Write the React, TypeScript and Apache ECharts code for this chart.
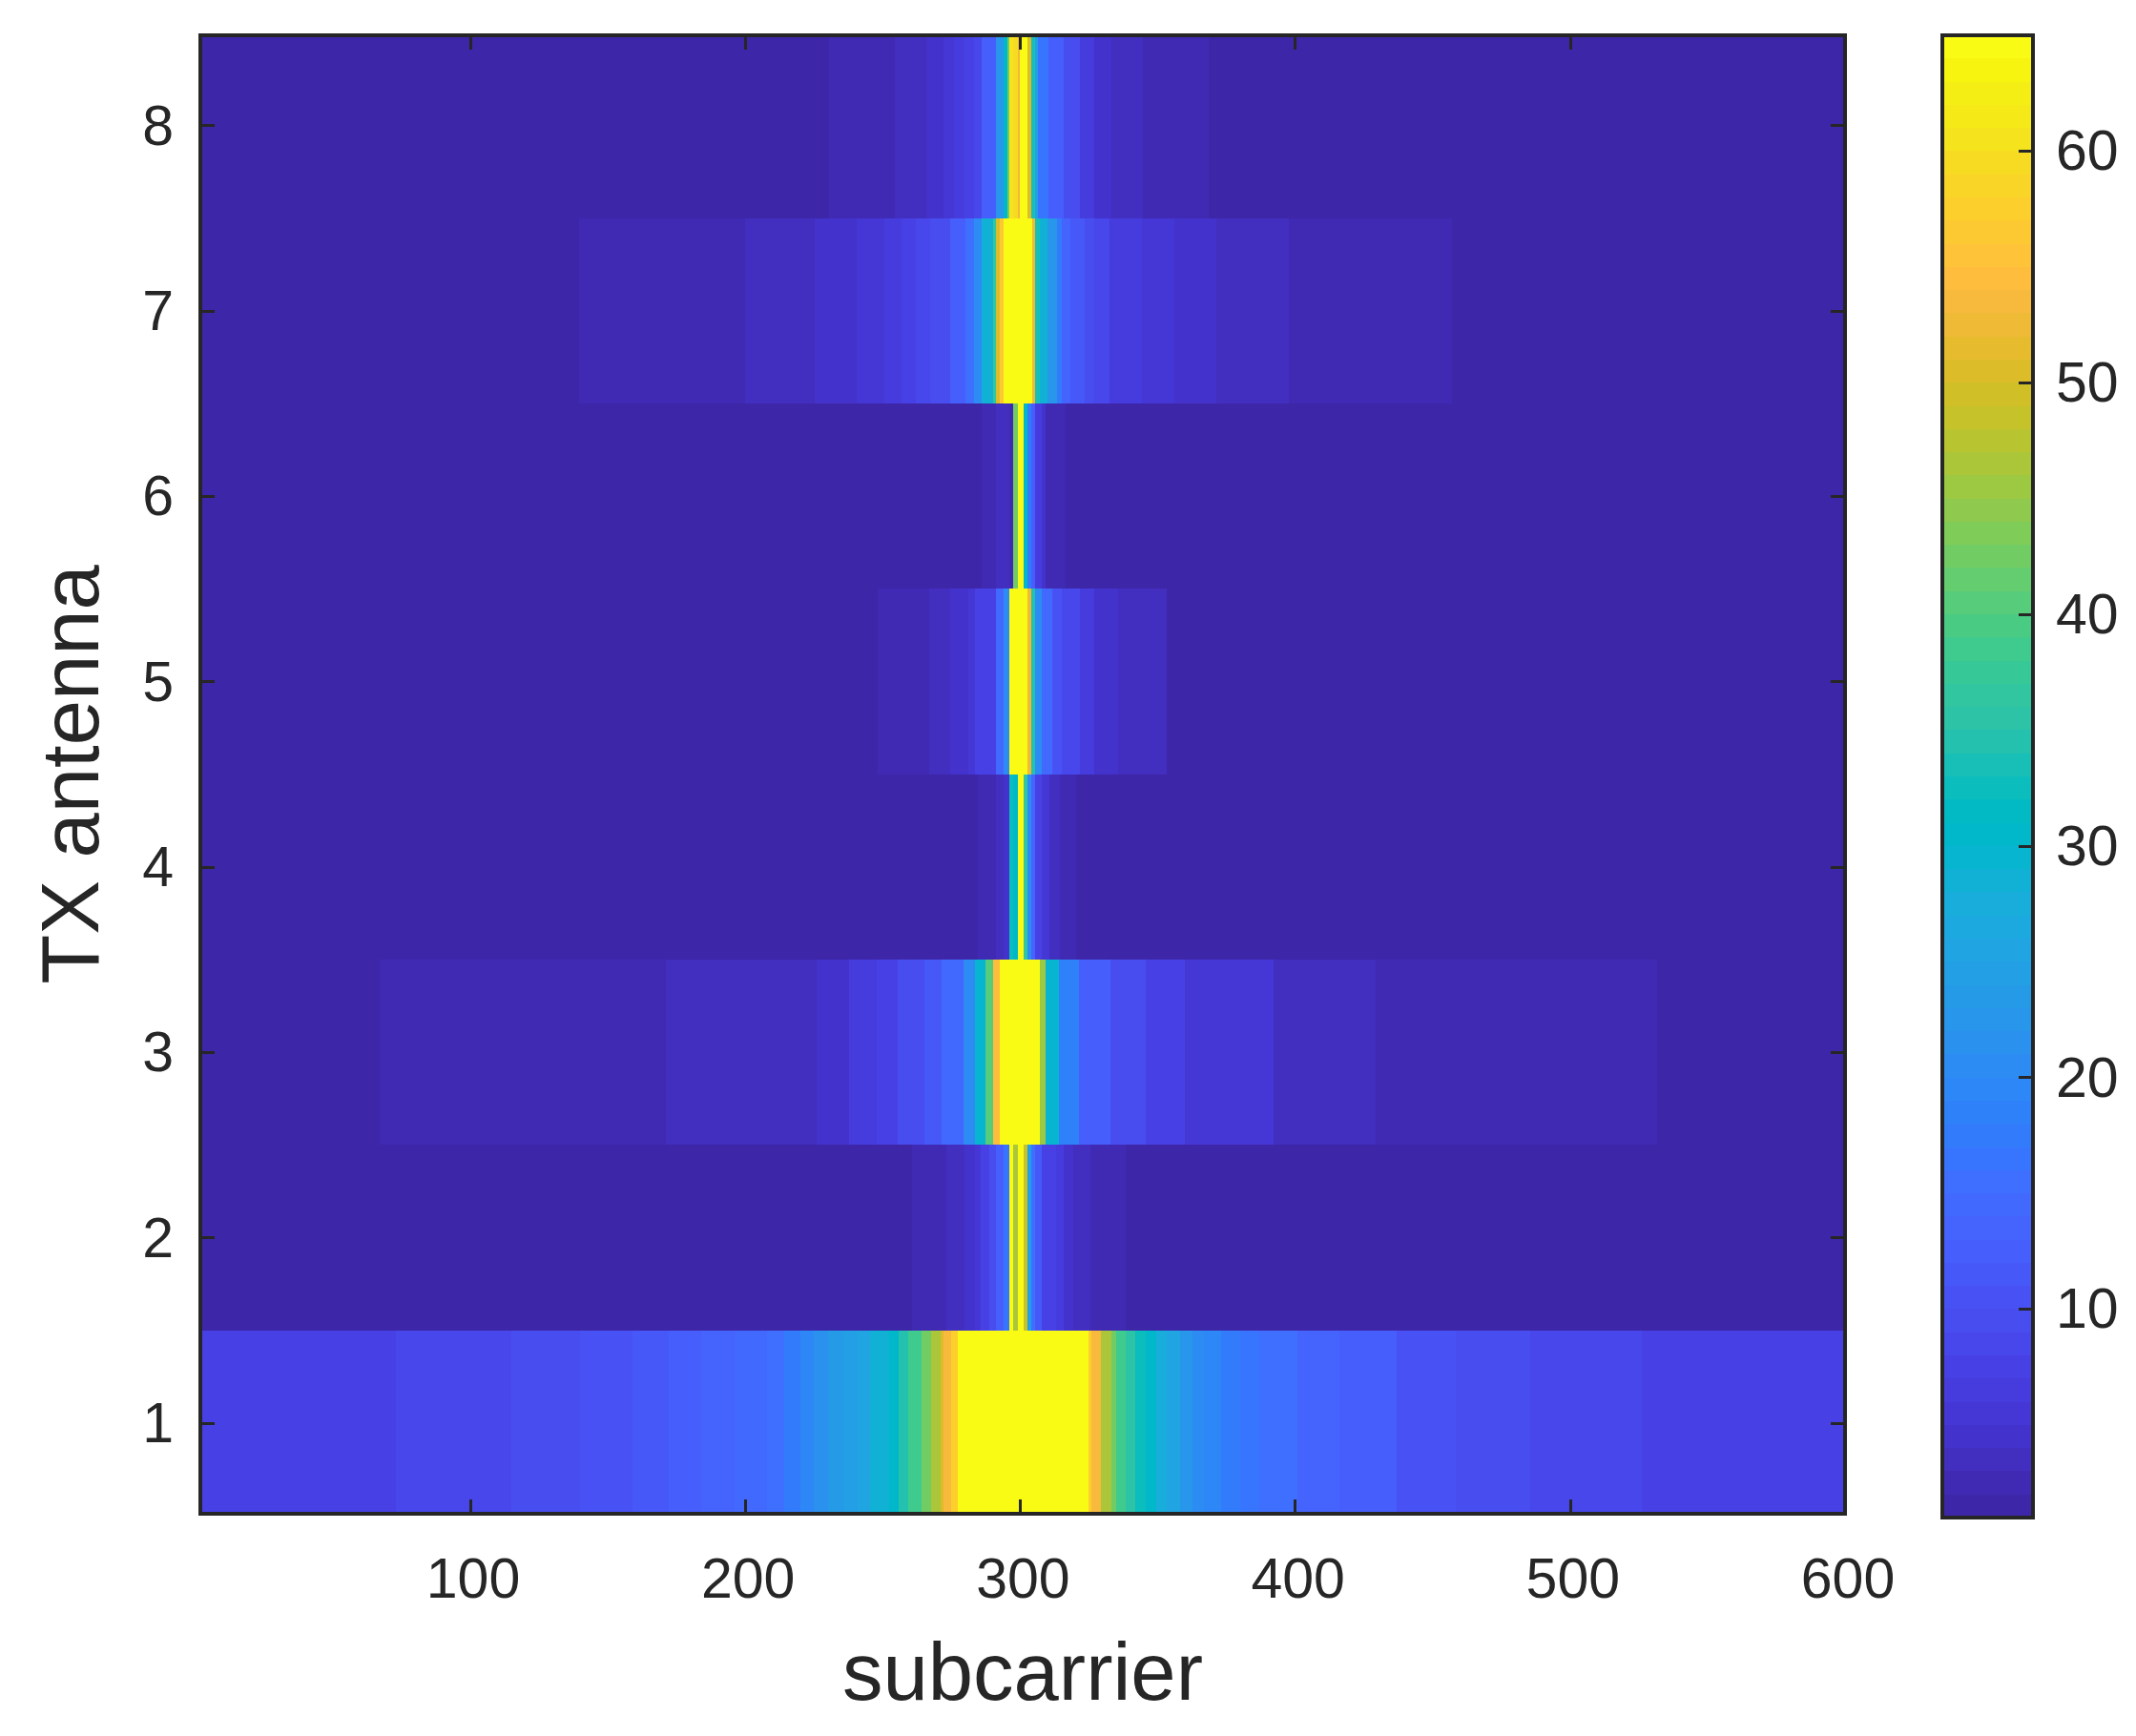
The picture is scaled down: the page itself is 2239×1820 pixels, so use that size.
import React, { useRef, useEffect } from 'react';
import * as echarts from 'echarts';

// each run is [end subcarrier, value], it starts where the previous run ended
const tx1 = [[73, 7], [115, 8], [140, 9], [159, 10], [172, 11], [184, 12], [196, 13], [208, 14], [214, 15], [220, 17], [225, 19], [230, 21], [236, 23], [241, 24], [245.4, 25], [252.3, 28], [255.8, 30], [259.3, 34], [264, 38], [267.6, 42], [271, 46], [272, 50], [275, 53], [277.4, 57], [324.8, 65], [326, 57], [329.4, 53], [333, 46], [335, 42], [338.3, 38], [341.8, 35], [345.8, 32], [349.4, 30], [353.3, 27], [358, 25], [362.6, 22], [367, 20], [373, 19], [380, 17], [387, 16], [401, 15], [416, 13], [437, 12], [458.5, 10], [485.5, 9], [526, 8], [600.5, 7]];
const tx2 = [[260.7, 1], [273.2, 2], [279.8, 3], [283.7, 4], [285.8, 5], [288.9, 7], [291.3, 9], [293.8, 12], [296.2, 16], [297.6, 65], [299, 46], [301.4, 65], [302.8, 48], [303.9, 24], [305.3, 15], [307.7, 11], [312.9, 7], [315.7, 6], [319.2, 4], [325.4, 3], [338.3, 2], [600.5, 1]];
const tx3 = [[67, 1], [171.3, 2], [206.4, 3], [225.9, 3], [237.7, 4], [247.8, 6], [255.5, 7], [265.2, 9], [271.5, 11], [279.5, 14], [283.7, 20], [287.5, 29], [290.3, 40], [292.4, 54], [307, 65], [309.4, 45], [314, 29], [321.3, 18], [332.8, 12], [345.6, 9], [359.9, 7], [392.3, 5], [429.2, 3], [531.5, 2], [600.5, 1]];
const tx4 = [[284.7, 1], [291.3, 2], [293.8, 3], [296.2, 4], [297.6, 32], [299, 30], [301.4, 65], [302.8, 36], [303.9, 20], [305.3, 13], [308, 7], [310.5, 5], [314.3, 3], [320.2, 2], [600.5, 1]];
const tx5 = [[248.2, 1], [267, 2], [274.6, 3], [281.2, 4], [283.7, 5], [291.3, 7], [294.1, 14], [296.2, 20], [302.5, 65], [303.9, 52], [305.3, 34], [307.7, 20], [311.5, 14], [315, 10], [321.6, 8], [326.8, 6], [335.5, 4], [353.3, 3], [600.5, 1]];
const tx6 = [[286.1, 1], [291.3, 2], [296.2, 3], [297.6, 2], [299, 42], [301.4, 65], [302.8, 30], [303.9, 17], [305.3, 12], [308, 6], [309.4, 4], [316.4, 2], [600.5, 1]];
const tx7 = [[139.6, 1], [199.8, 2], [225.2, 3], [240.5, 4], [250.6, 5], [256.9, 6], [262.1, 7], [267.3, 8], [274.6, 9], [280.2, 12], [283.3, 15], [286.1, 20], [290.3, 28], [291.3, 36], [292.6, 50], [293.8, 56], [304.2, 65], [305.3, 52], [307, 33], [309.8, 28], [313.3, 22], [315, 17], [318.1, 13], [323.4, 11], [326.8, 9], [332.4, 8], [344.2, 6], [356.1, 5], [371.4, 4], [397.8, 3], [457, 2], [600.5, 1]];
const tx8 = [[230.4, 1], [254.4, 2], [265.9, 3], [272.2, 4], [276, 5], [279.8, 6], [283.3, 7], [286.1, 8], [291.3, 12], [293.8, 22], [295.2, 30], [296.2, 42], [297.6, 60], [299, 59], [300, 52], [302.8, 65], [303.9, 50], [305.3, 33], [306.3, 24], [310.1, 16], [315.7, 12], [321.6, 9], [326.8, 6], [333.1, 4], [344.6, 3], [368.6, 2], [600.5, 1]];
const antennas = [tx1, tx2, tx3, tx4, tx5, tx6, tx7, tx8];

const xTicks = [100, 200, 300, 400, 500, 600];
const yTicks = [1, 2, 3, 4, 5, 6, 7, 8];
const colorTicks = [10, 20, 30, 40, 50, 60];

// parula, 64 levels between 1 and 65
const parula = [
  '#3e26a8', '#402ab4', '#422ebf', '#4332cb', '#4537d5', '#463cde', '#4741e5', '#4747eb',
  '#484df0', '#4852f4', '#4758f8', '#465efb', '#4563fd', '#4269fe', '#3e6fff', '#3875fe',
  '#327cfc', '#2f81fa', '#2d87f7', '#2d8cf3', '#2b91ef', '#2796eb', '#259be7', '#23a0e5',
  '#20a5e2', '#1ca9df', '#18adda', '#11b1d6', '#08b5d0', '#01b8ca', '#02bac3', '#0bbdbc',
  '#18bfb6', '#24c1ae', '#2cc3a7', '#31c69f', '#37c897', '#3fca8e', '#4acb84', '#57cc7a',
  '#64cd6f', '#71cc63', '#80cc59', '#8fca4e', '#9dc942', '#abc739', '#b9c431', '#c5c22a',
  '#d1bf27', '#dcbd29', '#e6bb2d', '#efba35', '#f8ba3d', '#febd3c', '#fec338', '#fdc932',
  '#fccf2d', '#f9d527', '#f7db23', '#f5e31d', '#f5e918', '#f5ee15', '#f7f510', '#f9fb15',
];

const ink = '#262626';
const fontFamily = '"Liberation Sans", Arial, sans-serif';

const colorOf = (value: number) => parula[Math.min(63, Math.max(0, Math.floor(value - 1)))];

// [start, end, antenna, value]
const cells: number[][] = [];
antennas.forEach((runs, i) => {
  let start = 0.5;
  runs.forEach(([end, value]) => {
    cells.push([start, end, i + 1, value]);
    start = end;
  });
});

const barCells = parula.map((_, i) => [i + 1, i + 2]);

const frame = { lineStyle: { color: ink, width: 4, cap: 'square' } };

const App: React.FC = () => {
  const chartRef = useRef<HTMLDivElement>(null);

  useEffect(() => {
    if (!chartRef.current) return;
    const chart = echarts.init(chartRef.current, null, { renderer: 'svg' });

    const ticks = (customValues: number[]) => ({
      show: true,
      inside: true,
      length: 15,
      customValues,
      lineStyle: { color: ink, width: 3 },
    });
    const labels = (customValues: number[], margin: number, padding: number[] = [0, 0, 0, 0]) => ({
      show: true,
      customValues,
      margin,
      padding,
      color: ink,
      fontSize: 59,
      fontFamily,
    });
    const nameStyle = { color: ink, fontSize: 85, fontFamily };
    const mainX = { type: 'value', gridIndex: 0, min: 1.8, max: 600, z: 5, splitLine: { show: false }, axisLine: { show: true, onZero: false, ...frame } };
    const mainY = { type: 'value', gridIndex: 0, min: 0.511, max: 8.487, z: 5, splitLine: { show: false }, axisLine: { show: true, onZero: false, ...frame } };
    const barX = { type: 'value', gridIndex: 1, min: 0, max: 1, z: 5, splitLine: { show: false }, axisLabel: { show: false }, axisTick: { show: false }, axisLine: { show: true, onZero: false, ...frame } };
    const barY = { type: 'value', gridIndex: 1, min: 1, max: 65, z: 5, splitLine: { show: false }, axisLine: { show: true, onZero: false, ...frame } };

    chart.setOption({
      animation: false,
      backgroundColor: '#ffffff',
      grid: [
        { left: 210, top: 37, width: 1724, height: 1550, show: false, outerBoundsMode: 'none' },
        { left: 2036, top: 37, width: 95, height: 1554, show: false, outerBoundsMode: 'none' },
      ],
      xAxis: [
        {
          ...mainX,
          position: 'bottom',
          axisTick: ticks(xTicks),
          axisLabel: labels(xTicks, 38, [0, 0, 0, 6]),
          name: 'subcarrier',
          nameLocation: 'middle',
          nameGap: 123,
          nameMoveOverlap: false,
          nameTextStyle: nameStyle,
        },
        { ...mainX, position: 'top', axisTick: ticks(xTicks), axisLabel: { show: false } },
        { ...barX, position: 'bottom' },
        { ...barX, position: 'top' },
      ],
      yAxis: [
        {
          ...mainY,
          position: 'left',
          axisTick: ticks(yTicks),
          axisLabel: labels(yTicks, 28, [8, 0, 0, 0]),
          name: 'TX antenna',
          nameLocation: 'middle',
          nameGap: 94,
          nameMoveOverlap: false,
          nameTextStyle: nameStyle,
        },
        { ...mainY, position: 'right', axisTick: ticks(yTicks), axisLabel: { show: false } },
        { ...barY, position: 'left', axisTick: { show: false }, axisLabel: { show: false } },
        { ...barY, position: 'right', axisTick: ticks(colorTicks), axisLabel: labels(colorTicks, 24) },
      ],
      series: [
        {
          type: 'custom',
          xAxisIndex: 0,
          yAxisIndex: 0,
          data: cells,
          encode: { x: [0, 1], y: 2 },
          clip: true,
          silent: true,
          renderItem: (_: any, api: any) => {
            const row = api.value(2);
            const a = api.coord([api.value(0), row + 0.5]);
            const b = api.coord([api.value(1), row - 0.5]);
            const x0 = Math.round(a[0]);
            const y0 = Math.round(a[1]);
            return {
              type: 'rect',
              shape: { x: x0, y: y0, width: Math.round(b[0]) - x0, height: Math.round(b[1]) - y0 },
              style: { fill: colorOf(api.value(3)) },
            };
          },
        },
        {
          type: 'custom',
          xAxisIndex: 2,
          yAxisIndex: 2,
          data: barCells,
          encode: { y: [0, 1] },
          clip: true,
          silent: true,
          renderItem: (_: any, api: any) => {
            const a = api.coord([0, api.value(1)]);
            const b = api.coord([1, api.value(0)]);
            const y0 = Math.round(a[1]);
            return {
              type: 'rect',
              shape: { x: a[0], y: y0, width: b[0] - a[0], height: Math.round(b[1]) - y0 },
              style: { fill: colorOf(api.value(0)) },
            };
          },
        },
      ],
    });

    return () => {
      chart.dispose();
    };
  }, []);

  return <div ref={chartRef} style={{ position: 'absolute', left: 0, top: 0, width: 2239, height: 1820 }} />;
};

export default App;
